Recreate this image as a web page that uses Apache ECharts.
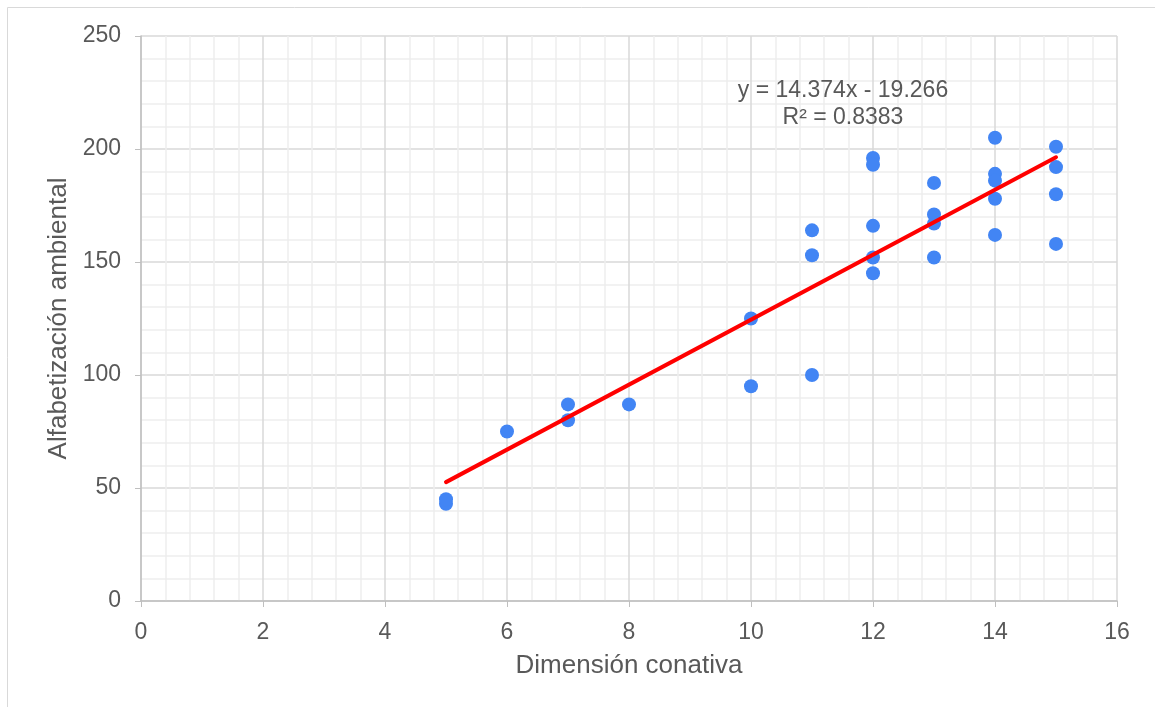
<!DOCTYPE html>
<html>
<head>
<meta charset="utf-8">
<script src="https://cdn.jsdelivr.net/npm/echarts@6/dist/echarts.min.js"></script>
<style>
  html, body { margin: 0; padding: 0; background: #fff; }
  #main { width: 1155px; height: 707px; }
</style>
</head>
<body>
<div id="main"></div>
<script>
// valores
const conativa = [5, 5, 6, 7, 7, 8, 10, 10, 11, 11, 11, 12, 12, 12, 12, 12, 13, 13, 13, 13, 14, 14, 14, 14, 14, 15, 15, 15, 15];
const alfabetizacion = [43, 45, 75, 87, 80, 87, 125, 95, 164, 153, 100, 196, 193, 166, 152, 145, 185, 171, 167, 152, 205, 189, 186, 178, 162, 201, 192, 180, 158];
// línea de tendencia (extremos)
const trendX = [5, 15];
const trendY = [52.60, 196.34];
const ecuacion = "y = 14.374x - 19.266";
const r2 = "R² = 0.8383";

const textColor = "#595959";
const fontFam = "'Liberation Sans', Arial, sans-serif";

const points = conativa.map((x, i) => [x, alfabetizacion[i]]);
const trend = trendX.map((x, i) => [x, trendY[i]]);

const myChart = echarts.init(document.getElementById("main"));

const option = {
  animation: false,
  textStyle: { fontFamily: fontFam, color: textColor },
  grid: { left: 141, top: 36, right: 38, bottom: 106 },
  graphic: [
    { type: "line", shape: { x1: 7.5, y1: 7.5, x2: 1155, y2: 7.5 }, style: { stroke: "#d9d9d9", lineWidth: 1 } },
    { type: "line", shape: { x1: 7.5, y1: 7.5, x2: 7.5, y2: 707 }, style: { stroke: "#d9d9d9", lineWidth: 1 } },
    {
      type: "text", x: 843, y: 77, z: 100,
      style: { text: ecuacion + "\n" + r2, align: "center", fill: textColor, fontSize: 23, lineHeight: 27, fontFamily: fontFam }
    }
  ],
  xAxis: {
    type: "value",
    min: 0, max: 16, interval: 2,
    name: "Dimensión conativa",
    nameLocation: "middle",
    nameGap: 52,
    nameTextStyle: { fontSize: 26, color: textColor },
    axisLine: { show: true, lineStyle: { color: "#bfbfbf", width: 1.5 } },
    axisTick: { show: true, length: 6, lineStyle: { color: "#bfbfbf" } },
    axisLabel: { fontSize: 23, color: textColor, margin: 20 },
    splitLine: { lineStyle: { color: "#d9d9d9", width: 1.5 } },
    minorTick: { show: false, splitNumber: 5 },
    minorSplitLine: { show: true, lineStyle: { color: "#eeeeee", width: 1.5 } }
  },
  yAxis: {
    type: "value",
    min: 0, max: 250, interval: 50,
    name: "Alfabetización ambiental",
    nameLocation: "middle",
    nameGap: 68,
    nameTextStyle: { fontSize: 26, color: textColor },
    axisLine: { show: true, lineStyle: { color: "#bfbfbf", width: 1.5 } },
    axisTick: { show: true, length: 6, lineStyle: { color: "#bfbfbf" } },
    axisLabel: { fontSize: 23, color: textColor, margin: 20 },
    splitLine: { lineStyle: { color: "#d9d9d9", width: 1.5 } },
    minorTick: { show: false, splitNumber: 5 },
    minorSplitLine: { show: true, lineStyle: { color: "#eeeeee", width: 1.5 } }
  },
  series: [
    {
      type: "line",
      data: trend,
      showSymbol: false,
      lineStyle: { color: "#ff0000", width: 4, cap: "round" },
      z: 3
    },
    {
      type: "scatter",
      data: points,
      symbolSize: 14,
      itemStyle: { color: "#4285f4", opacity: 1 },
      z: 2
    }
  ]
};

myChart.setOption(option);
</script>
</body>
</html>
